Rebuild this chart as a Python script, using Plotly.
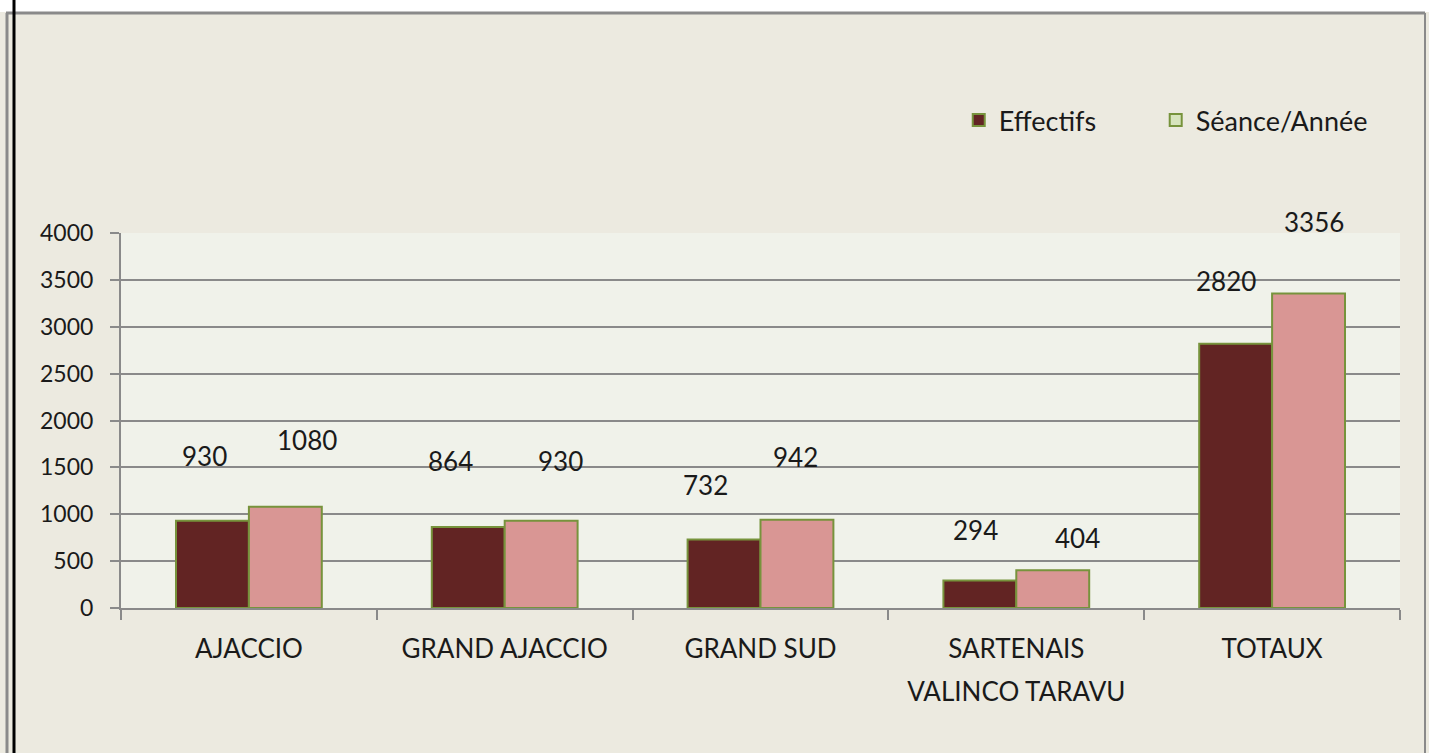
import plotly.graph_objects as go

# data
categories = ["AJACCIO", "GRAND AJACCIO", "GRAND SUD", "SARTENAIS VALINCO TARAVU", "TOTAUX"]
tick_lines = [["AJACCIO"], ["GRAND AJACCIO"], ["GRAND SUD"], ["SARTENAIS", "VALINCO TARAVU"], ["TOTAUX"]]
effectifs = [930, 864, 732, 294, 2820]
seances = [1080, 930, 942, 404, 3356]

# label offsets (px) as they sit in the original chart
eff_shift = [(-7, 65), (-17, 66), (-18, 54), (-4, 50), (-9, 63)]
sea_shift = [(21, 67), (19, 60), (-2, 63), (24, 32), (5, 71)]

dark = "#622423"
pink = "#D99694"
green = "#77933C"
font = "Lato, 'Open Sans', sans-serif"

# big tick font gives the wide line spacing, spans keep the glyphs at normal size
tick_labels = ["<br>".join("<span style='font-size:26px'>%s</span>" % s for s in lines) for lines in tick_lines]

fig = go.Figure()
fig.add_trace(go.Bar(x=categories, y=effectifs, name="Effectifs", offsetgroup="a",
                     marker=dict(color=dark, line=dict(color=green, width=2)), showlegend=False))
fig.add_trace(go.Bar(x=categories, y=seances, name="Séance/Année", offsetgroup="b",
                     marker=dict(color=pink, line=dict(color=green, width=2)), showlegend=False))
# legend swatches (the original legend shows a pale green box for the second series)
fig.add_trace(go.Bar(x=[None], y=[None], name="Effectifs", offsetgroup="a", legend="legend",
                     marker=dict(color=dark, line=dict(color=green, width=2))))
fig.add_trace(go.Bar(x=[None], y=[None], name="Séance/Année", offsetgroup="b", legend="legend2",
                     marker=dict(color="#D7E4BD", line=dict(color=green, width=2))))

for i, c in enumerate(categories):
    fig.add_annotation(x=c, y=effectifs[i], text=str(effectifs[i]), showarrow=False,
                       xshift=eff_shift[i][0] - 37, yshift=eff_shift[i][1], font=dict(size=26, color="#1a1a1a", family=font))
    fig.add_annotation(x=c, y=seances[i], text=str(seances[i]), showarrow=False,
                       xshift=sea_shift[i][0] + 37, yshift=sea_shift[i][1], font=dict(size=26, color="#1a1a1a", family=font))

# frame bits around the chart
W, H = 1279, 375
fig.add_shape(type="rect", xref="paper", yref="paper", x0=-121/W, x1=1.05, y0=(753-145-12)/H, y1=(753-145)/H,
              fillcolor="white", line_width=0, layer="below")
fig.add_shape(type="line", xref="paper", yref="paper", x0=-115/W, x1=(1425-121)/W, y0=(753-145-13)/H, y1=(753-145-13)/H,
              line=dict(color="#8a8a8a", width=3))
fig.add_shape(type="line", xref="paper", yref="paper", x0=-114/W, x1=-114/W, y0=-145/H, y1=(753-145-13)/H,
              line=dict(color="#8a8a8a", width=3))
fig.add_shape(type="line", xref="paper", yref="paper", x0=(1425-121)/W, x1=(1425-121)/W, y0=-145/H, y1=(753-145-13)/H,
              line=dict(color="#8a8a8a", width=2))
fig.add_shape(type="line", xref="paper", yref="paper", x0=-107/W, x1=-107/W, y0=-145/H, y1=(753-145)/H,
              line=dict(color="black", width=3))

leg = dict(orientation="h", y=1.30, xanchor="left", yanchor="middle",
           font=dict(size=27, family=font, color="#1a1a1a"), bgcolor="rgba(0,0,0,0)")

fig.update_layout(
    width=1429, height=753,
    margin=dict(l=121, r=29, t=233, b=145),
    paper_bgcolor="#ECEAE0",
    plot_bgcolor="#F0F2EA",
    barmode="group", bargap=0.43, bargroupgap=0,
    font=dict(family=font, size=25, color="#1a1a1a"),
    legend=dict(leg, x=0.655),
    legend2=dict(leg, x=0.809),
    xaxis=dict(showline=True, linecolor="#8a8a8a", linewidth=2, ticks="outside", tickson="boundaries",
               ticklen=10, tickwidth=2, tickcolor="#8a8a8a", tickfont=dict(size=33), showgrid=False,
               tickmode="array", tickvals=categories, ticktext=tick_labels, ticklabelstandoff=8),
    yaxis=dict(range=[0, 4000], dtick=500, showline=True, linecolor="#8a8a8a", linewidth=2,
               gridcolor="#8a8a8a", gridwidth=2, ticks="outside", ticklen=9, tickwidth=2,
               tickcolor="#8a8a8a", tickfont=dict(size=23), zeroline=False, ticklabelstandoff=12),
)

fig.write_html("out.html", config={"displayModeBar": False}, post_script="document.body.style.margin='0';")
